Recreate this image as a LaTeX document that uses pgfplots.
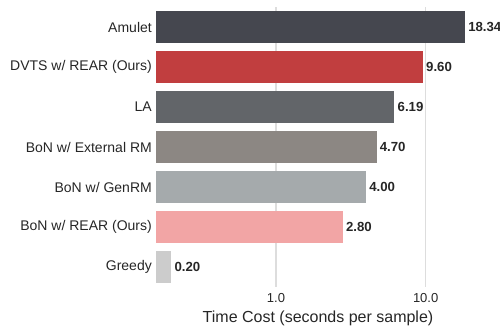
\documentclass[border=0pt]{standalone}
\usepackage{pgfplots}
\pgfplotsset{compat=1.18}
\usepackage{fontspec}
\setmainfont{Liberation Sans}
\definecolor{cAmulet}{HTML}{45474F}
\definecolor{cDVTS}{HTML}{C13E3F}
\definecolor{cLA}{HTML}{626569}
\definecolor{cExt}{HTML}{8C8783}
\definecolor{cGen}{HTML}{A5AAAC}
\definecolor{cRear}{HTML}{F2A5A5}
\definecolor{cGreedy}{HTML}{CCCCCC}
\definecolor{txt}{HTML}{262626}
\definecolor{gridc}{HTML}{DDDDDD}
\begin{document}
\begin{tikzpicture}
\useasboundingbox (0,0) rectangle (500pt,327pt);
\begin{axis}[
  at={(156pt,40pt)}, anchor=south west,
  scale only axis, width=324pt, height=280pt,
  xmode=log, log origin x=infty,
  xmin=0.158, xmax=23.07,
  ymin=-0.5, ymax=6.5, y dir=reverse,
  xbar, bar width=0.8, bar shift=0pt,
  axis line style={draw=none},
  major tick length=0pt, minor tick length=0pt,
  xtick={1,10}, xticklabels={1.0,10.0},
  minor xtick={},
  ytick={0,1,2,3,4,5,6},
  yticklabels={Amulet,DVTS w/ REAR (Ours),LA,BoN w/ External RM,BoN w/ GenRM,BoN w/ REAR (Ours),Greedy},
  xmajorgrids, major grid style={gridc, line width=1.2pt},
  xticklabel style={font=\fontsize{13}{15}\selectfont, text=txt, yshift=-2.5pt},
  yticklabel style={font=\fontsize{14}{16}\selectfont, text=txt, inner sep=2pt, xshift=-2pt},
  xlabel={Time Cost (seconds per sample)},
  every axis x label/.style={at={(axis description cs:0.5,0)}, anchor=center, yshift=-31pt, font=\fontsize{16}{19}\selectfont, text=txt},
  point meta=explicit symbolic,
  nodes near coords={\textbf{\pgfplotspointmeta}},
  every node near coord/.append style={anchor=west, inner sep=2pt, xshift=1pt, font=\fontsize{13.2}{15}\selectfont\bfseries, text=txt},
  clip=false,
]
\addplot[fill=cAmulet, draw=none] coordinates {(18.34,0) [18.34]};
\addplot[fill=cDVTS, draw=none] coordinates {(9.60,1) [9.60]};
\addplot[fill=cLA, draw=none] coordinates {(6.19,2) [6.19]};
\addplot[fill=cExt, draw=none] coordinates {(4.70,3) [4.70]};
\addplot[fill=cGen, draw=none] coordinates {(4.00,4) [4.00]};
\addplot[fill=cRear, draw=none] coordinates {(2.80,5) [2.80]};
\addplot[fill=cGreedy, draw=none] coordinates {(0.20,6) [0.20]};
\end{axis}
\end{tikzpicture}
\end{document}
